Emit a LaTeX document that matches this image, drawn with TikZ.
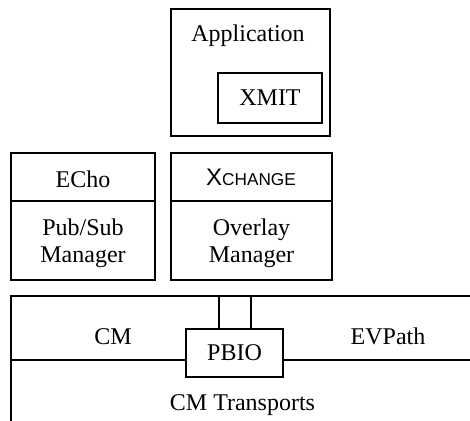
\documentclass[tikz,border=0pt]{standalone}
\usepackage{fontspec}
\setmainfont{Liberation Serif}
\newfontfamily\xsans{Liberation Sans}
\begin{document}
\begin{tikzpicture}[x=0.5pt,y=-0.5pt,line width=1pt,
  every node/.style={font=\fontsize{12}{13.5}\selectfont,inner sep=0pt},
  box/.style={draw,line width=1pt,minimum width=#1},
  txt/.style={anchor=base,align=center}]
\useasboundingbox (0,0) rectangle (470,421);
% top
\node[box=79.5pt,minimum height=63.5pt] (app) at (250.5,72.5) {};
\node[txt] (apptext) at (248,42) {Application};
\node[box=52pt,minimum height=25pt] (xmit) at (270,98) {XMIT};
% middle
\node[box=72pt,minimum height=24pt] (echotop) at (83,177) {};
\node[box=72pt,minimum height=39.5pt] (echobot) at (83,240.5) {};
\node[box=80.5pt,minimum height=24pt] (xchtop) at (251.5,177) {};
\node[box=80.5pt,minimum height=39.5pt] (xchbot) at (251.5,240.5) {};
\node[txt] (echotext) at (83,188) {ECho};
\node[txt] (xchtext) at (251,186) {{\xsans X\fontsize{8.6}{10}\selectfont CHANGE}};
\node[txt] (pubsub) at (83,263) {Pub/Sub\\Manager};
\node[txt] (overlay) at (251.5,263) {Overlay\\Manager};
% bottom
\node[box=48.5pt,minimum height=24pt] (pbio) at (234.5,353) {PBIO};
\coordinate (tl) at (11,296);
\coordinate (tr) at (470,296);
\coordinate (bl) at (11,421);
\coordinate (ml) at (11,360);
\coordinate (mr) at (470,360);
\coordinate (s1) at (219,296);
\coordinate (s2) at (251,296);
\draw (tr) -- (tl) -- (bl);
\draw (ml) -- (ml -| pbio.west);
\draw (mr -| pbio.east) -- (mr);
\draw (s1) -- (s1 |- pbio.north);
\draw (s2) -- (s2 |- pbio.north);
\node[txt] (cm) at (113,345) {CM};
\node[txt] (evpath) at (388,345) {EVPath};
\node[txt] (cmt) at (242.5,410) {CM Transports};
\end{tikzpicture}
\end{document}
